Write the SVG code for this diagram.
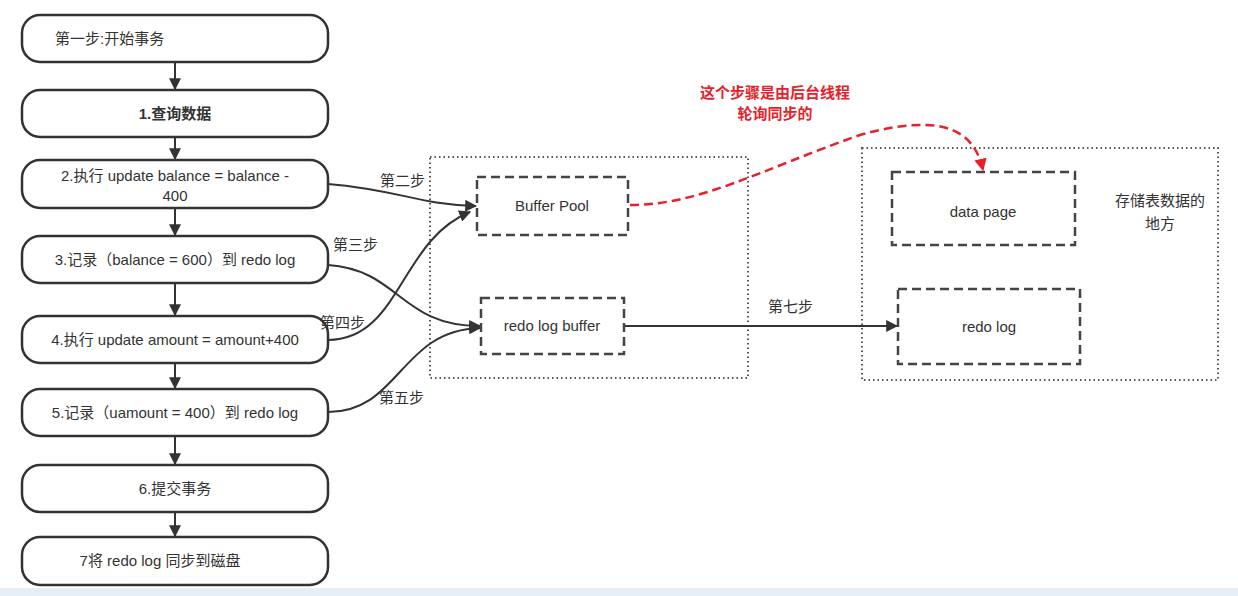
<svg xmlns="http://www.w3.org/2000/svg" width="1238" height="596" viewBox="0 0 1238 596">
<defs>
<style>
text{font-family:"Liberation Sans","Noto Sans CJK SC",sans-serif;font-size:15px;fill:#333}
.n{fill:#fff;stroke:#333;stroke-width:2.5}
.d{fill:#fff;stroke:#444;stroke-width:2.5;stroke-dasharray:9 5}
.o{fill:none;stroke:#555;stroke-width:2;stroke-dasharray:1.5 3}
.c{fill:none;stroke:#333;stroke-width:2}
.r{fill:none;stroke:#e8202a;stroke-width:2.5;stroke-dasharray:9 5}
</style>
<marker id="a" viewBox="0 0 10 10" refX="9" refY="5" markerWidth="6" markerHeight="6" orient="auto"><path d="M0,0L10,5L0,10z" fill="#333"/></marker>
<marker id="ra" viewBox="0 0 10 10" refX="9" refY="5" markerWidth="5" markerHeight="5" orient="auto"><path d="M0,0L10,5L0,10z" fill="#e8202a"/></marker>
</defs>
<rect x="0" y="588" width="1238" height="8" fill="#e6eef8"/>
<rect class="o" x="430" y="157" width="318" height="221"/>
<rect class="o" x="862" y="148" width="356" height="232"/>
<g id="connectors">
<path class="c" d="M175,62V89" marker-end="url(#a)"/>
<path class="c" d="M175,137V159" marker-end="url(#a)"/>
<path class="c" d="M175,208V235" marker-end="url(#a)"/>
<path class="c" d="M175,283V315" marker-end="url(#a)"/>
<path class="c" d="M175,363V388" marker-end="url(#a)"/>
<path class="c" d="M175,436V464" marker-end="url(#a)"/>
<path class="c" d="M175,512V536" marker-end="url(#a)"/>
<path class="c" d="M328,184C400,190 420,205 476,206" marker-end="url(#a)"/>
<path class="c" d="M328,265C400,270 400,326 480,326" marker-end="url(#a)"/>
<path class="c" d="M328,340C400,340 400,240 470,212" marker-end="url(#a)"/>
<path class="c" d="M328,412C400,412 400,330 480,328" marker-end="url(#a)"/>
<path class="c" d="M624,326H897" marker-end="url(#a)"/>
<path class="r" d="M630,205C700,205 760,170 860,135C950,110 975,135 983,170" marker-end="url(#ra)"/>
</g>
<g id="n0"><rect class="n" x="22" y="15" width="306" height="47" rx="18"/><text x="55" y="44">第一步:开始事务</text></g>
<g id="n1"><rect class="n" x="22" y="90" width="306" height="47" rx="18"/><text x="175" y="119" text-anchor="middle" font-weight="bold">1.查询数据</text></g>
<g id="n2"><rect class="n" x="22" y="160" width="306" height="48" rx="18"/><text x="175" y="181" text-anchor="middle">2.执行 update balance = balance -</text><text x="175" y="201" text-anchor="middle">400</text></g>
<g id="n3"><rect class="n" x="22" y="236" width="306" height="47" rx="18"/><text x="175" y="265" text-anchor="middle">3.记录（balance = 600）到 redo log</text></g>
<g id="n4"><rect class="n" x="22" y="316" width="306" height="47" rx="18"/><text x="175" y="345" text-anchor="middle">4.执行 update amount = amount+400</text></g>
<g id="n5"><rect class="n" x="22" y="389" width="306" height="47" rx="18"/><text x="175" y="418" text-anchor="middle">5.记录（uamount = 400）到 redo log</text></g>
<g id="n6"><rect class="n" x="22" y="465" width="306" height="47" rx="18"/><text x="175" y="494" text-anchor="middle">6.提交事务</text></g>
<g id="n7"><rect class="n" x="22" y="537" width="306" height="48" rx="18"/><text x="160" y="566" text-anchor="middle">7将 redo log 同步到磁盘</text></g>
<g id="bp"><rect class="d" x="477" y="177" width="151" height="58"/><text x="552" y="211" text-anchor="middle">Buffer Pool</text></g>
<g id="rlb"><rect class="d" x="481" y="298" width="143" height="56"/><text x="552" y="331" text-anchor="middle">redo log buffer</text></g>
<g id="dp"><rect class="d" x="892" y="172" width="183" height="73"/><text x="983" y="217" text-anchor="middle">data page</text></g>
<g id="rl"><rect class="d" x="898" y="289" width="182" height="75"/><text x="989" y="332" text-anchor="middle">redo log</text></g>
<g id="labels">
<text x="380" y="186">第二步</text>
<text x="333" y="250">第三步</text>
<text x="320" y="328">第四步</text>
<text x="379" y="403">第五步</text>
<text x="768" y="312">第七步</text>
<text x="1160" y="206" text-anchor="middle">存储表数据的</text>
<text x="1160" y="229" text-anchor="middle">地方</text>
<text x="775" y="98" text-anchor="middle" font-weight="bold" style="fill:#e8202a">这个步骤是由后台线程</text>
<text x="775" y="119" text-anchor="middle" font-weight="bold" style="fill:#e8202a">轮询同步的</text>
</g>
</svg>
